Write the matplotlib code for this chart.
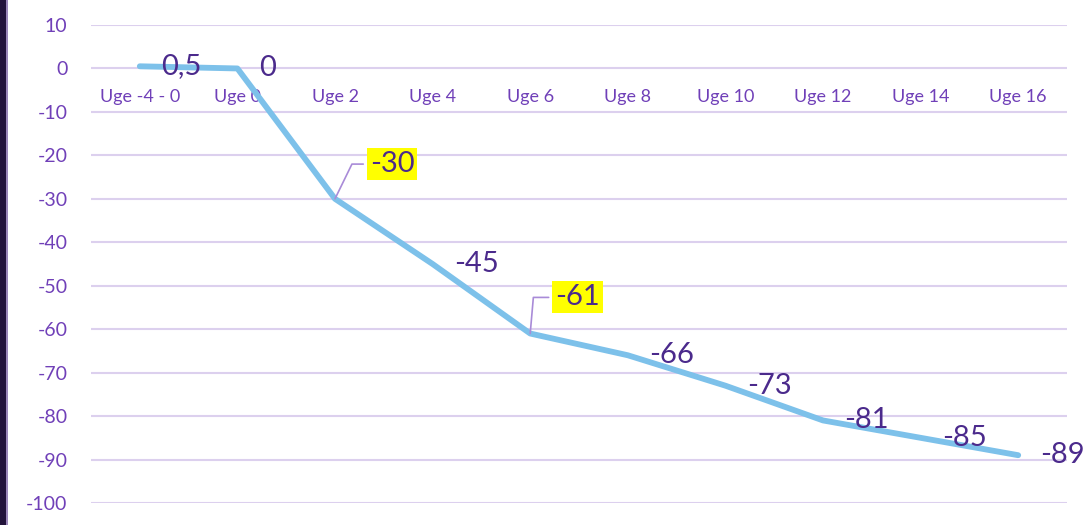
import matplotlib
matplotlib.use("Agg")
from matplotlib import pyplot as plt
from matplotlib.patches import Rectangle

weeks = ["Uge -4 - 0", "Uge 0", "Uge 2", "Uge 4", "Uge 6", "Uge 8",
         "Uge 10", "Uge 12", "Uge 14", "Uge 16"]
values = [0.5, 0, -30, -45, -61, -66, -73, -81, -85, -89]
value_labels = ["0,5", "0", "-30", "-45", "-61", "-66", "-73", "-81", "-85", "-89"]
highlighted = [2, 4]
y_ticks = list(range(-100, 11, 10))

tick_color = "#7040B8"
label_color = "#4B2A8C"
grid_color = "#DCD0EE"
line_color = "#7DC1EA"

plt.rcParams['font.family'] = ['Lato', 'DejaVu Sans']

W, H = 1084, 525
fig = plt.figure(figsize=(W / 100, H / 100), dpi=100)
ax = fig.add_axes([91 / W, 22 / H, 976 / W, 478 / H])

x = list(range(len(weeks)))
ax.plot(x, values, color=line_color, linewidth=4.2, solid_capstyle='round',
        solid_joinstyle='round', zorder=3)

# data labels
for i, (xv, yv) in enumerate(zip(x, values)):
    if i in highlighted:
        off = (41, 25) if i == 2 else (34, 26)
        ax.annotate(value_labels[i], xy=(xv, yv), xytext=off, textcoords='offset points',
                    ha='center', va='center', fontsize=21, color=label_color, zorder=5,
                    bbox=dict(boxstyle='square,pad=0.1', fc='#FFFF00', ec='none'),
                    arrowprops=dict(arrowstyle='-', color='#A98BD8', lw=1.2,
                                    relpos=(0, 0.5), shrinkA=2.5, shrinkB=0,
                                    connectionstyle='angle,angleA=0,angleB=%d,rad=0'
                                    % (64 if i == 2 else 85)))
    else:
        ax.annotate(value_labels[i], xy=(xv, yv), xytext=(15.5, 0), textcoords='offset points',
                    ha='left', va='center', fontsize=21, color=label_color, zorder=5)

ax.set_xlim(-0.5, len(weeks) - 0.5)
ax.set_ylim(-100, 10)
ax.set_yticks(y_ticks)
ax.set_yticklabels([str(v) for v in y_ticks])
ax.set_xticks(x)
ax.set_xticklabels(weeks)
ax.spines['bottom'].set_position(('data', 0))
for s in ax.spines.values():
    s.set_visible(False)
ax.tick_params(axis='x', length=0, pad=14.5, labelsize=13, labelcolor=tick_color)
ax.tick_params(axis='y', length=0, pad=17, labelsize=14, labelcolor=tick_color)
ax.grid(axis='y', color=grid_color, linewidth=1.5)
ax.set_axisbelow(True)

# dark strip on the left edge
fig.patches.append(Rectangle((0, 0), 6 / W, 1, transform=fig.transFigure,
                             facecolor='#22123A', edgecolor='none'))
fig.patches.append(Rectangle((6 / W, 0), 1.5 / W, 1, transform=fig.transFigure,
                             facecolor='#9A86B8', edgecolor='none'))

fig.savefig("out.png", dpi=100)
